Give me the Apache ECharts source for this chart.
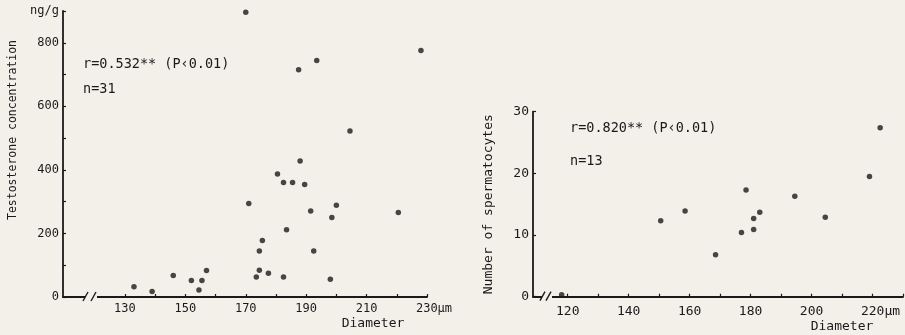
<!DOCTYPE html>
<html>
<head>
<meta charset="utf-8">
<script src="https://cdn.jsdelivr.net/npm/echarts@6/dist/echarts.min.js"></script>
<style>
html,body{margin:0;padding:0;background:#f3f0ea;}
#c{width:905px;height:335px;}
</style>
</head>
<body>
<div id="c"></div>
<script>
// ---- Left panel: testosterone vs diameter ----
const leftDiameter = [133, 139, 146, 152, 155.5, 154.5, 157, 171, 173.5, 174.5, 174.5, 175.5, 177.5, 180.5, 182.5, 182.5, 183.5, 185.5, 189.5, 191.5, 200, 198.5, 220.5, 192.5, 198, 170, 187.5, 188, 228, 193.5, 204.5];
const leftTestosterone = [32, 17, 68, 52, 52, 22, 83, 294, 63, 84, 145, 178, 75, 387, 360, 63, 212, 360, 354, 271, 289, 250, 266, 145, 56, 896, 715, 428, 776, 744, 522];
const leftXLabels = [130, 150, 170, 190, 210, 230];
const leftXTicks = [130, 140, 150, 160, 170, 180, 190, 200, 210, 220, 230];
const leftYLabels = [0, 200, 400, 600, 800];
const leftAnnot = ["r=0.532** (P‹0.01)", "n=31"];

// ---- Right panel: spermatocytes vs diameter ----
const rightDiameter = [118, 150.5, 158.5, 168.5, 177, 178.5, 181, 181, 183, 194.5, 204.5, 219, 222.5];
const rightSpermatocytes = [0.3, 12.3, 13.9, 6.8, 10.4, 17.3, 12.7, 10.9, 13.7, 16.3, 12.9, 19.5, 27.4];
const rightXLabels = [120, 140, 160, 180, 200, 220];
const rightXTicks = [120, 130, 140, 150, 160, 170, 180, 190, 200, 210, 220, 230];
const rightAnnot = ["r=0.820** (P‹0.01)", "n=13"];

const INK = '#1a1a1a';
const BG = '#f3f0ea';
const FONT = "'DejaVu Sans Mono', monospace";

function pairs(xs, ys){ return xs.map((x,i)=>[x, ys[i]]); }

const chart = echarts.init(document.getElementById('c'), null, {renderer:'canvas'});

const axisLineStyle = {show:true, lineStyle:{color:INK, width:1.8}};
const tickStyle = {show:true, inside:true, length:3, lineStyle:{color:INK, width:1.2}};

const option = {
  backgroundColor: BG,
  animation: false,
  grid: [
    {left:63, right:478, top:11, bottom:38},
    {left:533, right:2, top:111.7, bottom:38.3}
  ],
  xAxis: [
    {gridIndex:0, type:'value', min:109.5, max:230,
     axisLine:axisLineStyle, splitLine:{show:false},
     axisTick:Object.assign({customValues:leftXTicks}, tickStyle),
     axisLabel:{customValues:leftXLabels, color:INK, fontFamily:FONT, fontSize:12, margin:6,
       formatter:v=> v===230 ? '{pad| }230μm' : String(v),
       rich:{pad:{width:14}}}},
    {gridIndex:1, type:'value', min:108.6, max:230,
     axisLine:axisLineStyle, splitLine:{show:false},
     axisTick:Object.assign({customValues:rightXTicks}, tickStyle),
     axisLabel:{customValues:rightXLabels, color:INK, fontFamily:FONT, fontSize:13, margin:8,
       formatter:v=> v===220 ? '{pad| }220μm' : String(v),
       rich:{pad:{width:16}}}}
  ],
  yAxis: [
    {gridIndex:0, type:'value', min:0, max:900, interval:100,
     axisLine:axisLineStyle, splitLine:{show:false}, axisTick:tickStyle,
     axisLabel:{color:INK, fontFamily:FONT, fontSize:12, margin:4,
       formatter:v=> v===900 ? 'ng/g' : (leftYLabels.indexOf(v)>=0 ? String(v) : '')}},
    {gridIndex:1, type:'value', min:0, max:30, interval:10,
     axisLine:axisLineStyle, splitLine:{show:false}, axisTick:tickStyle,
     name:'Number of spermatocytes', nameLocation:'middle', nameGap:38,
     nameTextStyle:{color:INK, fontFamily:FONT, fontSize:13},
     axisLabel:{color:INK, fontFamily:FONT, fontSize:13, margin:4}}
  ],
  series: [
    {type:'scatter', xAxisIndex:0, yAxisIndex:0, data:pairs(leftDiameter, leftTestosterone),
     symbolSize:5.5, itemStyle:{color:INK}},
    {type:'scatter', xAxisIndex:1, yAxisIndex:1, data:pairs(rightDiameter, rightSpermatocytes),
     symbolSize:5.5, itemStyle:{color:INK}}
  ]
};
chart.setOption(option);

function brk(o, g1, g2){
  const y = o[1];
  return [
    {type:'rect', z:100, shape:{x:o[0]+g1, y:y-2, width:g2-g1, height:4}, style:{fill:BG}},
    {type:'line', z:101, shape:{x1:o[0]+g1-2, y1:y+4, x2:o[0]+g1+3, y2:y-5}, style:{stroke:INK, lineWidth:1.4}},
    {type:'line', z:101, shape:{x1:o[0]+g2-6, y1:y+4, x2:o[0]+g2-1, y2:y-5}, style:{stroke:INK, lineWidth:1.4}}
  ];
}
const oL = chart.convertToPixel({gridIndex:0}, [109.5, 0]);
const oR = chart.convertToPixel({gridIndex:1}, [108.6, 0]);
const txt = (x,y,t,size)=>({type:'text', z:50, x:x, y:y,
  style:{text:t, fill:INK, font:size+'px '+FONT, verticalAlign:'middle', align:'left'}});

const graphics = []
  .concat(brk(oL, 22, 34))
  .concat(brk(oR, 9, 19))
  .concat([
    txt(oL[0]+20, 64, leftAnnot[0], 13.5),
    txt(oL[0]+20, 89, leftAnnot[1], 13.5),
    txt(oR[0]+37, 128, rightAnnot[0], 13.5),
    txt(oR[0]+37, 161, rightAnnot[1], 13.5),
    {type:'text', z:50, x:13, y:130, rotation:Math.PI/2,
     style:{text:'Testosterone concentration', fill:INK, font:'11.5px '+FONT, align:'center', verticalAlign:'middle'}},
    {type:'text', z:50, x:373, y:324, style:{text:'Diameter', fill:INK, font:'13px '+FONT, align:'center', verticalAlign:'middle'}},
    {type:'text', z:50, x:842, y:327, style:{text:'Diameter', fill:INK, font:'13px '+FONT, align:'center', verticalAlign:'middle'}}
  ]);
chart.setOption({graphic: graphics});
</script>
</body>
</html>
